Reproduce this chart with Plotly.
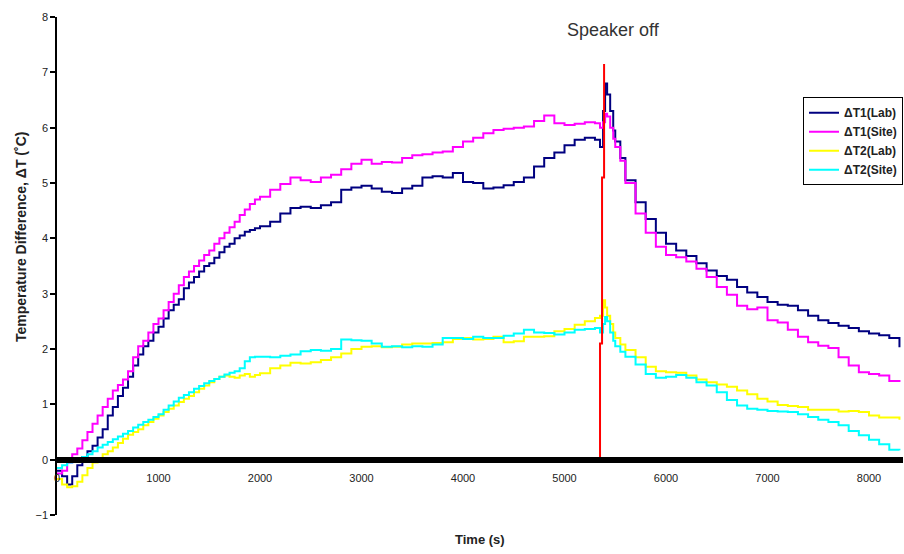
import plotly.graph_objects as go

# Sampling times (s)
time_s = [0, 50, 100, 150, 200, 250, 300, 350, 400, 450,
          500, 550, 600, 650, 700, 750, 800, 850, 900, 950,
          1000, 1050, 1100, 1150, 1200, 1250, 1300, 1350, 1400, 1450,
          1500, 1550, 1600, 1650, 1700, 1750, 1800, 1850, 1900, 1950,
          2000, 2100, 2200, 2300, 2400, 2500, 2600, 2700, 2800, 2900,
          3000, 3100, 3200, 3300, 3400, 3500, 3600, 3700, 3800, 3900,
          4000, 4100, 4200, 4300, 4400, 4500, 4600, 4700, 4800, 4900,
          5000, 5100, 5200, 5300,
          5350, 5380, 5400, 5420, 5450, 5480, 5500, 5550,
          5600, 5700, 5800, 5900, 6000, 6100, 6200, 6300,
          6400, 6500, 6600, 6700, 6800, 6900, 7000, 7100, 7200, 7300,
          7400, 7500, 7600, 7700, 7800, 7900, 8000, 8100, 8200, 8300]

dT1_lab = [-0.2, -0.3, -0.45, -0.3, -0.1, 0.05, 0.15, 0.25, 0.4, 0.55,
           0.8, 0.95, 1.15, 1.3, 1.5, 1.7, 1.9, 2.05, 2.15, 2.3,
           2.4, 2.55, 2.7, 2.8, 2.9, 3.1, 3.2, 3.3, 3.4, 3.5,
           3.55, 3.65, 3.75, 3.85, 3.9, 4.0, 4.05, 4.12, 4.15, 4.18,
           4.22, 4.3, 4.45, 4.55, 4.57, 4.55, 4.6, 4.65, 4.88, 4.92,
           4.95, 4.9, 4.84, 4.82, 4.9, 4.95, 5.1, 5.12, 5.1, 5.18,
           5.02, 5.0, 4.9, 4.92, 4.96, 5.02, 5.1, 5.3, 5.45, 5.55,
           5.68, 5.78, 5.82, 5.78,
           5.65, 6.3, 6.8, 6.6, 6.3, 5.95, 5.75, 5.45,
           5.05, 4.65, 4.35, 4.1, 3.9, 3.78, 3.68, 3.55,
           3.42, 3.32, 3.25, 3.12, 3.02, 2.94, 2.85, 2.8, 2.78, 2.7,
           2.6, 2.52, 2.47, 2.42, 2.38, 2.32, 2.28, 2.25, 2.2, 2.03]

dT1_site = [-0.25, -0.2, -0.05, 0.1, 0.2, 0.35, 0.5, 0.65, 0.8, 0.95,
            1.1, 1.25, 1.35, 1.45, 1.6, 1.85, 2.05, 2.15, 2.3, 2.45,
            2.55, 2.7, 2.85, 3.0, 3.15, 3.3, 3.4, 3.5, 3.6, 3.7,
            3.78, 3.9, 4.0, 4.1, 4.2, 4.3, 4.42, 4.52, 4.62, 4.7,
            4.75, 4.88, 4.98, 5.1, 5.05, 5.02, 5.1, 5.15, 5.25, 5.35,
            5.42, 5.35, 5.38, 5.37, 5.45, 5.5, 5.52, 5.55, 5.57, 5.65,
            5.75, 5.82, 5.9, 5.96, 5.98, 6.0, 6.02, 6.12, 6.22, 6.08,
            6.05, 6.07, 6.1, 6.08,
            6.0, 6.1, 6.25, 6.2, 6.0, 5.8, 5.65, 5.4,
            5.0, 4.45, 4.1, 3.85, 3.7, 3.66, 3.58, 3.45,
            3.3, 3.12, 2.98, 2.78, 2.72, 2.75, 2.52, 2.48, 2.35, 2.22,
            2.12, 2.06, 2.02, 1.85, 1.7, 1.58, 1.55, 1.52, 1.42, 1.44]

dT2_lab = [-0.35, -0.45, -0.5, -0.48, -0.4, -0.28, -0.15, -0.05, 0.02, 0.1,
           0.15, 0.22, 0.3, 0.38, 0.45, 0.5, 0.55, 0.62, 0.68, 0.74,
           0.8, 0.86, 0.92, 0.98, 1.04, 1.1, 1.15, 1.22, 1.28, 1.34,
           1.4, 1.46, 1.5, 1.52, 1.5, 1.48, 1.52, 1.55, 1.5, 1.53,
           1.56, 1.65, 1.7, 1.75, 1.74, 1.76, 1.8, 1.85, 1.92, 2.0,
           2.04, 2.05, 2.03, 2.04, 2.08, 2.1, 2.1, 2.11, 2.12, 2.18,
           2.2, 2.17, 2.18, 2.22, 2.12, 2.14, 2.22, 2.22, 2.23, 2.32,
           2.36, 2.44, 2.5, 2.56,
           2.6, 2.88, 2.75, 2.6, 2.45, 2.3, 2.2, 2.08,
           1.98, 1.85, 1.68, 1.6, 1.58, 1.57, 1.52, 1.45,
           1.4, 1.36, 1.32, 1.25, 1.18, 1.1, 1.05, 0.99, 0.97, 0.95,
           0.9, 0.9, 0.9, 0.87, 0.88, 0.86, 0.8, 0.76, 0.76, 0.72]

dT2_site = [-0.15, -0.1, -0.05, 0.0, 0.0, 0.05, 0.1, 0.15, 0.22, 0.27,
            0.32, 0.37, 0.42, 0.47, 0.52, 0.58, 0.63, 0.68, 0.72, 0.77,
            0.82, 0.9, 0.98, 1.05, 1.12, 1.17, 1.22, 1.28, 1.33, 1.38,
            1.42, 1.46, 1.5, 1.54, 1.57, 1.6, 1.65, 1.78, 1.85, 1.86,
            1.86, 1.85, 1.88, 1.9, 1.96, 1.98, 1.97, 2.0, 2.17, 2.16,
            2.15, 2.1, 2.04, 2.05, 2.03, 2.05, 2.04, 2.08, 2.2, 2.2,
            2.18, 2.22, 2.2, 2.2, 2.24, 2.28, 2.35, 2.3, 2.29, 2.26,
            2.3, 2.35, 2.36, 2.38,
            2.3, 2.45, 2.58, 2.5, 2.3, 2.15, 2.05, 1.95,
            1.86, 1.72, 1.55, 1.48, 1.5, 1.53, 1.48, 1.4,
            1.34, 1.22, 1.08, 0.98, 0.92, 0.9, 0.88, 0.87, 0.86, 0.82,
            0.77, 0.72, 0.68, 0.62, 0.52, 0.44, 0.36, 0.28, 0.18, 0.17]

# "Speaker off" marker line
speaker_t = [5350, 5350, 5370, 5370, 5390, 5390]
speaker_v = [0, 2.1, 2.1, 5.1, 5.1, 7.15]

series_names = ["ΔT1(Lab)", "ΔT1(Site)", "ΔT2(Lab)", "ΔT2(Site)"]
series_vals = [dT1_lab, dT1_site, dT2_lab, dT2_site]
series_colors = ["#000080", "#ff00ff", "#ffff00", "#00ffff"]

x_ticks = [0, 1000, 2000, 3000, 4000, 5000, 6000, 7000, 8000]
y_ticks = [-1, 0, 1, 2, 3, 4, 5, 6, 7, 8]

fig = go.Figure()
for name, vals, col in zip(series_names, series_vals, series_colors):
    fig.add_trace(go.Scatter(x=time_s, y=vals, name=name, mode="lines",
                             line=dict(color=col, width=2, shape="hv")))
fig.add_trace(go.Scatter(x=speaker_t, y=speaker_v, mode="lines", showlegend=False,
                         line=dict(color="#ff0000", width=2)))

font_family = "Liberation Sans, Arial, sans-serif"
fig.update_layout(
    width=904, height=554,
    margin=dict(l=57, r=1, t=17, b=39, autoexpand=False),
    paper_bgcolor="white", plot_bgcolor="white",
    font=dict(family=font_family, color="#222222"),
    showlegend=True,
    legend=dict(x=1.0, xanchor="right", y=0.839, yanchor="top",
                bgcolor="white", bordercolor="black", borderwidth=1,
                font=dict(size=12, family=font_family, color="#222222", weight="bold"),
                itemwidth=30, tracegroupgap=0),
    xaxis=dict(range=[0, 8335], tickvals=x_ticks, ticktext=[str(v) for v in x_ticks],
               showgrid=False, zeroline=False, showline=True, linecolor="black",
               linewidth=6, ticks="outside", ticklen=6, tickcolor="rgba(0,0,0,0)",
               anchor="free", position=1/9,
               tickfont=dict(size=11, color="#222222")),
    yaxis=dict(range=[-1, 8], tickvals=y_ticks, showgrid=False, zeroline=False,
               showline=True, linecolor="black", linewidth=1.5, ticks="outside",
               ticklen=5, tickwidth=1.5, tickcolor="black",
               tickfont=dict(size=11, color="#222222")),
    annotations=[
        dict(text="Speaker off", x=0.658, y=0.974, xref="paper", yref="paper",
             xanchor="center", yanchor="middle",
             showarrow=False, font=dict(size=18, color="#333333")),
        dict(text="Time (s)", x=0.5, y=-0.05, xref="paper", yref="paper",
             xanchor="center", yanchor="middle",
             showarrow=False, font=dict(size=13, color="#222222", weight="bold")),
        dict(text="Temperature Difference, ΔT (˚C)", x=-0.0426, y=0.56, xref="paper",
             yref="paper", xanchor="center", yanchor="middle",
             showarrow=False, textangle=-90,
             font=dict(size=14, color="#222222", weight="bold")),
    ],
)

fig.write_html("out.html", config={"displayModeBar": False},
               post_script="document.body.style.margin='0';")
